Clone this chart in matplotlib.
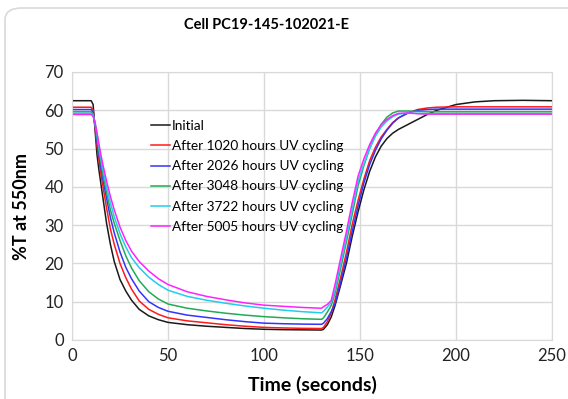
import matplotlib
matplotlib.use("Agg")
import matplotlib.pyplot as plt
from matplotlib.patches import FancyBboxPatch

# time points (seconds)
t = [0, 10, 11, 12, 13, 14, 15, 16, 18, 20, 22, 25, 28, 31, 35, 40, 45, 50, 60, 70,
     80, 90, 100, 110, 120, 130, 131, 133, 135, 137, 140, 143, 146, 149, 152, 155,
     158, 161, 164, 167, 170, 175, 180, 185, 190, 200, 210, 220, 235, 250]

initial = [62.5, 62.5, 61.5, 55, 48.5, 44.5, 41, 37.5, 30.5, 25, 20.5, 15.8, 12.8, 10.4, 8.0, 6.3, 5.3, 4.6, 4.0, 3.6,
           3.3, 3.0, 2.8, 2.7, 2.65, 2.6, 2.8, 4, 6, 9, 14.5, 20.2, 27.2, 33.5, 39.2, 44,
           47.8, 50.6, 52.6, 54.0, 55.0, 56.3, 57.6, 58.9, 60, 61.5, 62.2, 62.5, 62.6, 62.5]
h1020 = [60.8, 60.8, 60, 55.5, 50.8, 47, 43.5, 40.5, 34.5, 29, 25, 20, 16.3, 13.3, 10.2, 8.0, 6.7, 5.8, 5.0, 4.5,
         4.0, 3.6, 3.3, 3.15, 3.05, 3.0, 3.3, 4.8, 7, 10.5, 16.5, 23, 30.3, 36.5, 42, 46.8,
         50.3, 53, 55, 56.8, 58, 59.3, 60.2, 60.6, 60.8, 60.9, 60.9, 60.9, 60.9, 60.9]
h2026 = [60.2, 60.2, 59.5, 56, 52, 48.5, 45.3, 42.3, 37, 32, 28, 23, 19, 16, 12.8, 10, 8.5, 7.5, 6.5, 5.9,
         5.3, 4.8, 4.4, 4.25, 4.15, 4.1, 4.4, 5.6, 7.4, 9.5, 15.2, 21.5, 28.5, 35, 41, 45.8,
         49.5, 52.5, 54.8, 56.6, 58, 59.3, 60, 60.2, 60.3, 60.3, 60.3, 60.3, 60.3, 60.3]
h3048 = [59.6, 59.6, 59, 56.5, 53, 49.5, 46.5, 43.5, 38.5, 34, 30.5, 26, 22, 18.8, 15.5, 12.6, 10.7, 9.4, 8.3, 7.6,
         7.0, 6.5, 6.1, 5.8, 5.55, 5.4, 5.8, 7.3, 9, 12.2, 18.9, 25.8, 33, 40.3, 45.5, 50,
         53.5, 56.3, 58.2, 59.3, 59.8, 59.8, 59.7, 59.6, 59.6, 59.6, 59.6, 59.6, 59.6, 59.6]
h3722 = [59.2, 59.2, 58.7, 56.8, 53.8, 50.5, 47.5, 44.8, 40, 35.8, 32.2, 27.8, 24.3, 21.5, 18.9, 16.4, 14.5, 13.0, 11.4, 10.4,
         9.6, 8.9, 8.3, 7.8, 7.4, 7.1, 7.5, 8.6, 9.8, 13, 20, 27, 34.3, 41.5, 46, 50,
         53.2, 55.6, 57.2, 58.3, 59, 59.3, 59.2, 59.1, 59.1, 59.1, 59.1, 59.1, 59.1, 59.1]
h5005 = [58.9, 58.9, 58.4, 56.8, 54.2, 51.3, 48.5, 46, 41.5, 37.5, 34, 29.5, 26, 23.2, 20.5, 18.0, 16.0, 14.5, 12.6, 11.4,
         10.5, 9.7, 9.1, 8.8, 8.5, 8.3, 8.7, 9.3, 10.3, 14.5, 21.5, 28.5, 36, 42.8, 47.3, 51,
         54, 56.2, 57.6, 58.6, 59.2, 59.3, 59.1, 59.0, 59.0, 59.0, 59.0, 59.0, 59.0, 59.0]

labels = ["Initial", "After 1020 hours UV cycling", "After 2026 hours UV cycling",
          "After 3048 hours UV cycling", "After 3722 hours UV cycling", "After 5005 hours UV cycling"]
colors = ["#1a1a1a", "#ff1a1a", "#3333ff", "#22aa55", "#22ccee", "#ff22ff"]

plt.rcParams['font.family'] = ['Lato', 'DejaVu Sans']

fig = plt.figure(figsize=(5.68, 3.99), dpi=100)
# chart frame (right and bottom edges fall outside the image)
fig.patches.append(FancyBboxPatch((5/568, -20/399), 600/568, 411/399,
                                  boxstyle="round,pad=0,rounding_size=0.03",
                                  transform=fig.transFigure, facecolor="none",
                                  edgecolor="#d9d9d9", lw=1.2))

ax = fig.add_axes([72/568, 1 - 340/399, 480/568, 268/399])
for y, lab, c in zip([initial, h1020, h2026, h3048, h3722, h5005], labels, colors):
    ax.plot(t, y, color=c, lw=1.1, label=lab)

ax.set_xlim(0, 250)
ax.set_ylim(0, 70)
ax.set_xticks(range(0, 251, 50))
ax.set_yticks(range(0, 71, 10))
ax.grid(True, color="#d9d9d9", lw=1)
ax.set_axisbelow(True)
for s in ax.spines.values():
    s.set_color("#d9d9d9")
ax.tick_params(length=0, labelsize=12, pad=6, colors="#222222")

fig.text(267/568, 1 - 25/399, "Cell PC19-145-102021-E", ha="center", va="center",
         fontsize=10.5, fontweight="bold")
fig.text(312/568, 1 - 385/399, "Time (seconds)", ha="center", va="center",
         fontsize=14, fontweight="bold")
fig.text(22/568, 1 - 206/399, "%T at 550nm", ha="center", va="center",
         rotation=90, fontsize=13, fontweight="bold")

ax.legend(loc="upper left", bbox_to_anchor=(151/568, 1 - 120/399),
          bbox_transform=fig.transFigure, frameon=False, fontsize=9.8,
          handlelength=1.4, handletextpad=0.15, labelspacing=0.6,
          borderaxespad=0, borderpad=0)

fig.savefig("out.png", dpi=100)
